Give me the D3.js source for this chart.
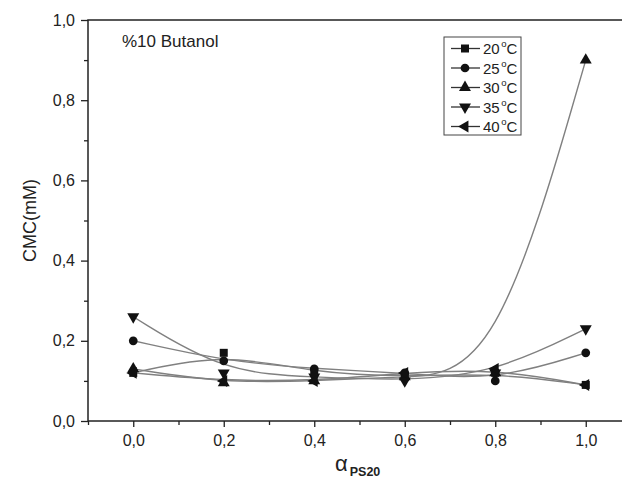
<!DOCTYPE html>
<html>
<head>
<meta charset="utf-8">
<script src="https://cdn.jsdelivr.net/npm/d3@7"></script>
<style>
  body { margin: 0; background: #fff; }
  svg { font-family: Arial, "Liberation Sans", sans-serif; }
</style>
</head>
<body>
<svg></svg>
<script>
// данные
const alpha = [0.0, 0.2, 0.4, 0.6, 0.8, 1.0];
const seriesNames = ["20", "25", "30", "35", "40"];
const cmc20 = [0.12, 0.17, 0.12, 0.11, 0.12, 0.09];
const cmc25 = [0.20, 0.15, 0.13, 0.12, 0.10, 0.17];
const cmc30 = [0.13, 0.095, 0.10, 0.11, 0.12, 0.90];
const cmc35 = [0.26, 0.12, 0.11, 0.10, 0.12, 0.23];
const cmc40 = [0.12, 0.10, 0.10, 0.12, 0.13, 0.09];
const xTicks = [0.0, 0.2, 0.4, 0.6, 0.8, 1.0];
const yTicks = [0.0, 0.2, 0.4, 0.6, 0.8, 1.0];

const allSeries = [cmc20, cmc25, cmc30, cmc35, cmc40];
// тип маркера и поворот для каждой серии
const markers = [
    { type: d3.symbolSquare, size: 64, rot: 0 },
    { type: d3.symbolCircle, size: 60, rot: 0 },
    { type: d3.symbolTriangle, size: 62, rot: 0 },
    { type: d3.symbolTriangle, size: 62, rot: 180 },
    { type: d3.symbolTriangle, size: 62, rot: -90 }
];

const W = 622, H = 482;
const svg = d3.select("svg").attr("width", W).attr("height", H);

const x = d3.scaleLinear().domain([-0.1, 1.1]).range([88, 631]);
const y = d3.scaleLinear().domain([0, 1]).range([421, 20]);
const fmt = d => d3.format(".1f")(d).replace(".", ",");

// рамка
svg.append("rect")
    .attr("x", x(-0.1)).attr("y", y(1))
    .attr("width", x(1.1) - x(-0.1)).attr("height", y(0) - y(1))
    .attr("fill", "none").attr("stroke", "#222").attr("stroke-width", 1.5);

// ось X
svg.append("g").attr("transform", `translate(0,${y(0)})`)
    .call(d3.axisBottom(x).tickValues(xTicks).tickFormat(fmt).tickSize(6).tickPadding(8));
svg.append("g").attr("transform", `translate(0,${y(0)})`)
    .call(d3.axisBottom(x).tickValues(d3.range(-0.1, 1.1, 0.2)).tickFormat("").tickSize(4));

// ось Y
svg.append("g").attr("transform", `translate(${x(-0.1)},0)`)
    .call(d3.axisLeft(y).tickValues(yTicks).tickFormat(fmt).tickSize(7).tickPadding(6));
svg.append("g").attr("transform", `translate(${x(-0.1)},0)`)
    .call(d3.axisLeft(y).tickValues(d3.range(0.1, 1.0, 0.2)).tickFormat("").tickSize(4));

svg.selectAll(".domain").remove();
svg.selectAll(".tick line").attr("stroke", "#222").attr("stroke-width", 1.3);
svg.selectAll(".tick text").attr("font-size", 16).attr("fill", "#222");

// линии
const line = d3.line()
    .x((d, i) => x(alpha[i]))
    .y(d => y(d))
    .curve(d3.curveBasis);

svg.append("g").selectAll("path")
    .data(allSeries)
    .join("path")
    .attr("d", line)
    .attr("fill", "none")
    .attr("stroke", "#808080")
    .attr("stroke-width", 1.4);

// маркеры
allSeries.forEach((s, k) => {
    const m = markers[k];
    svg.append("g").selectAll("path")
        .data(s)
        .join("path")
        .attr("d", d3.symbol().type(m.type).size(m.size))
        .attr("transform", (d, i) => `translate(${x(alpha[i])},${y(d)}) rotate(${m.rot})`)
        .attr("fill", "#111");
});

// подпись внутри графика
svg.append("text").attr("x", 122).attr("y", 47)
    .attr("font-size", 17).attr("fill", "#222").text("%10 Butanol");

// легенда
const legend = svg.append("g");
legend.append("rect")
    .attr("x", 444).attr("y", 37).attr("width", 77).attr("height", 98)
    .attr("fill", "#fff").attr("stroke", "#444").attr("stroke-width", 1);

seriesNames.forEach((name, k) => {
    const cy = 48.5 + k * 19.5;
    const m = markers[k];
    legend.append("line")
        .attr("x1", 451).attr("x2", 480).attr("y1", cy).attr("y2", cy)
        .attr("stroke", "#333").attr("stroke-width", 1.3);
    legend.append("path")
        .attr("d", d3.symbol().type(m.type).size(m.size)())
        .attr("transform", `translate(465,${cy}) rotate(${m.rot})`)
        .attr("fill", "#111");
    const t = legend.append("text").attr("x", 483).attr("y", cy + 5.5)
        .attr("font-size", 15).attr("fill", "#222");
    t.append("tspan").text(name);
    t.append("tspan").attr("font-size", 9.5).attr("dy", -7).attr("dx", 1.5).text("o");
    t.append("tspan").attr("dy", 7).text("C");
});

// подписи осей
svg.append("text")
    .attr("transform", `translate(36,${(y(0) + y(1)) / 2}) rotate(-90)`)
    .attr("text-anchor", "middle")
    .attr("font-size", 18).attr("fill", "#222").text("CMC(mM)");

const xl = svg.append("text").attr("x", 335).attr("y", 471).attr("fill", "#222");
xl.append("tspan").attr("font-size", 22).text("α");
xl.append("tspan").attr("font-size", 12.5).attr("font-weight", "bold").attr("dy", 5).attr("dx", 2).text("PS20");
</script>
</body>
</html>
